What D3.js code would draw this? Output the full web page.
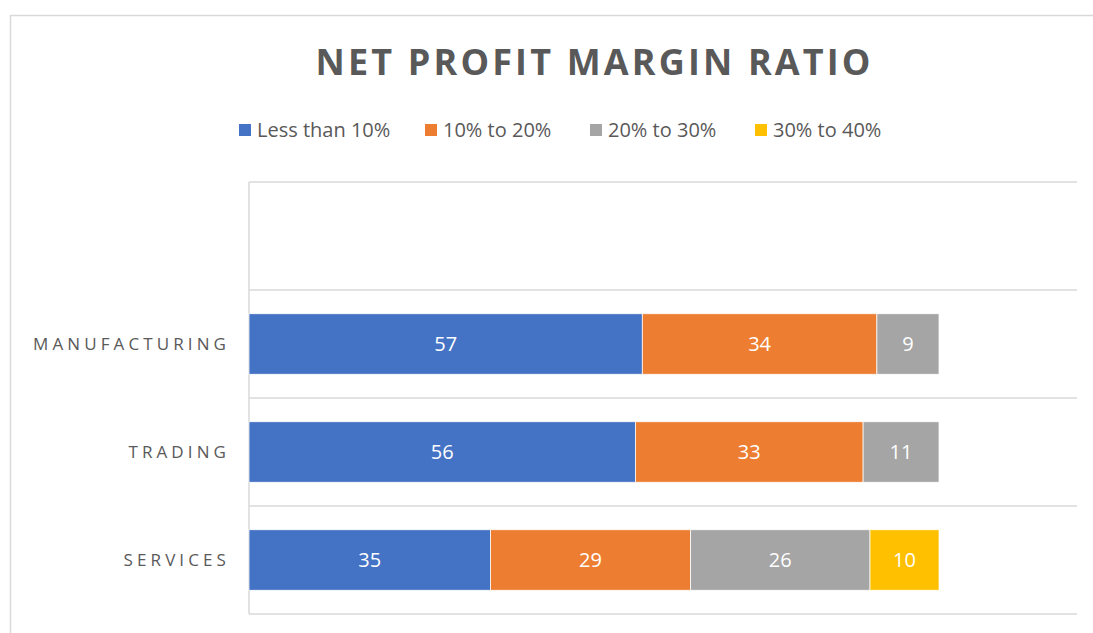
<!DOCTYPE html>
<html><head><meta charset="utf-8">
<script src="https://cdn.jsdelivr.net/npm/d3@7"></script>
<style>body{margin:0;background:#fff}svg{display:block}</style>
</head><body>
<svg id="chart" width="1093" height="633"></svg>
<script>
const title = "NET PROFIT MARGIN RATIO";
const categories = ["", "MANUFACTURING", "TRADING", "SERVICES"];
const seriesNames = ["Less than 10%", "10% to 20%", "20% to 30%", "30% to 40%"];
const lessThan10 = [0, 57, 56, 35];
const from10to20 = [0, 34, 33, 29];
const from20to30 = [0, 9, 11, 26];
const from30to40 = [0, 0, 0, 10];
const colors = ["#4472C4", "#ED7D31", "#A5A5A5", "#FFC000"];
const xMax = 120;

(function () {
const seriesValues = [lessThan10, from10to20, from20to30, from30to40];
const rows = categories.map((c, i) => {
  const r = {cat: c};
  seriesNames.forEach((s, j) => r[s] = seriesValues[j][i]);
  return r;
});

const svg = d3.select("#chart");
svg.append("path").attr("d", "M10.5,633 V15.5 H1093").attr("fill", "none")
  .attr("stroke", "#d9d9d9").attr("stroke-width", 1.5);

const pLeft = 249, pRight = 1077, pTop = 182, pBottom = 614;
const x = d3.scaleLinear().domain([0, xMax]).range([pLeft, pRight]);
const y = d3.scaleBand().domain(categories.map((c, i) => i)).range([pTop, pBottom]).paddingInner(0.44).paddingOuter(0.22);

const step = y.step();
const gridYs = d3.range(categories.length + 1).map(i => pTop + i * step);
svg.append("g").selectAll("line").data(gridYs).join("line")
  .attr("x1", pLeft).attr("x2", pRight).attr("y1", d => d).attr("y2", d => d)
  .attr("stroke", "#d9d9d9").attr("stroke-width", 1.5);
svg.append("line").attr("x1", pLeft).attr("x2", pLeft).attr("y1", pTop).attr("y2", pBottom)
  .attr("stroke", "#d9d9d9").attr("stroke-width", 1.5);

const stack = d3.stack().keys(seriesNames)(rows);
const g = svg.append("g");
stack.forEach((layer, j) => {
  const lg = g.append("g");
  layer.forEach((d, i) => {
    if (d[1] - d[0] <= 0) return;
    lg.append("rect").attr("x", x(d[0])).attr("y", y(i)).attr("width", x(d[1]) - x(d[0]))
      .attr("height", y.bandwidth()).attr("fill", colors[j])
      .attr("stroke", "#fff").attr("stroke-width", 0.75);
    lg.append("text").attr("x", (x(d[0]) + x(d[1])) / 2).attr("y", y(i) + y.bandwidth() / 2)
      .attr("dy", "0.35em").attr("text-anchor", "middle").attr("fill", "#fff")
      .attr("font-family", "Open Sans, sans-serif").attr("font-size", 20)
      .text(d[1] - d[0]);
  });
});

svg.append("g").selectAll("text").data(categories).join("text")
  .attr("x", 230).attr("y", (d, i) => y(i) + y.bandwidth() / 2).attr("dy", "0.35em")
  .attr("text-anchor", "end").attr("fill", "#595959")
  .attr("font-family", "Open Sans, sans-serif").attr("font-size", 17)
  .attr("letter-spacing", "4.1px").text(d => d);

svg.append("text").attr("x", 593).attr("y", 75).attr("text-anchor", "middle")
  .attr("fill", "#595959").attr("font-family", "Open Sans, sans-serif").attr("font-weight", "bold")
  .attr("font-size", 36).attr("textLength", 555).attr("lengthAdjust", "spacing").text(title);

const legendX = [239, 425, 590, 755];
const lgd = svg.append("g");
seriesNames.forEach((s, j) => {
  lgd.append("rect").attr("x", legendX[j]).attr("y", 124).attr("width", 12).attr("height", 12).attr("fill", colors[j]);
  lgd.append("text").attr("x", legendX[j] + 18).attr("y", 130).attr("dy", "0.35em")
    .attr("fill", "#595959").attr("font-family", "Open Sans, sans-serif").attr("font-size", 20).text(s);
});
})();
</script>
</body></html>
